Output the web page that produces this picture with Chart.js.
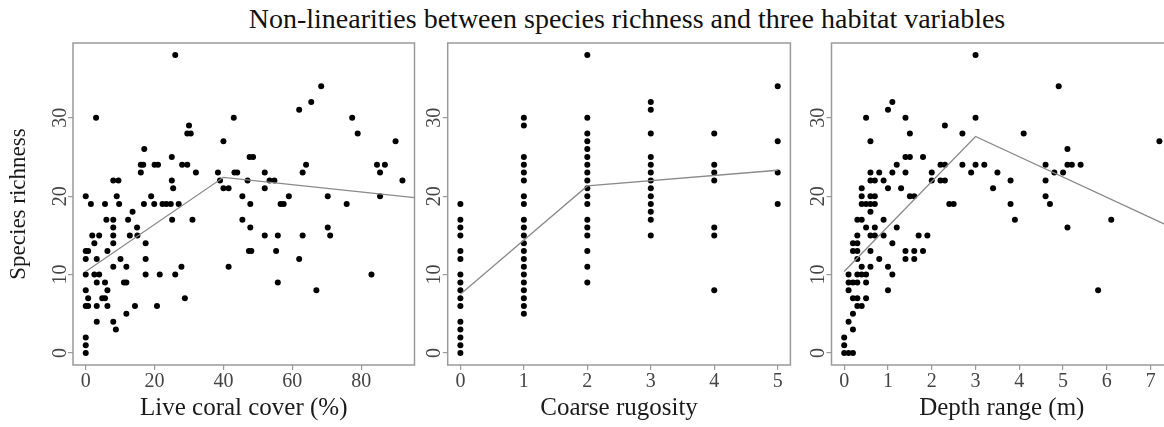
<!DOCTYPE html>
<html>
<head>
<meta charset="utf-8">
<script src="https://cdn.jsdelivr.net/npm/chart.js@4/dist/chart.umd.min.js"></script>
<style>
  html, body { margin: 0; padding: 0; background: #fff; width: 1164px; height: 427px; overflow: hidden; }
  #title { position: absolute; left: 0; top: 3px; width: 1254px; text-align: center;
           font: 28px 'Liberation Serif', serif; color: #111; white-space: nowrap; }
  .panel { position: absolute; top: 0; height: 427px; }
</style>
</head>
<body>
<div id="title">Non-linearities between species richness and three habitat variables</div>
<div class="panel" style="left:0px"><canvas id="coral" width="430" height="427"></canvas></div>
<div class="panel" style="left:410px"><canvas id="rugosity" width="390" height="427"></canvas></div>
<div class="panel" style="left:795px"><canvas id="depth" width="385" height="427"></canvas></div>
<script>
// ---- Live coral cover (%) vs species richness ----
const coralCover = [
  26, 3, 30, 29.5, 30.5, 17, 25, 16, 16.7, 20, 21, 28, 29.5, 16, 32, 8, 9.5, 25, 25.4,
  0, 9, 19, 1.5, 5.6, 9.7, 16.9, 19.9, 22.3, 23.4, 24.7, 27, 13.6,
  6, 8, 12.3, 25.1, 31, 8, 14.9, 1.9, 3.9, 8, 12.8, 15, 2.5, 8, 17.4,
  0, 0.7, 6.3, 0, 3.2, 10.1, 17.4, 8, 11.8, 27.8, 0, 2.5, 3.9, 17.4, 21.5, 26,
  3.2, 5.6, 11.1, 11.8, 0, 6.3, 0.7, 4.8, 5.6, 28.8, 0, 0.7, 3.2, 6.3, 14.3, 20.7,
  11.8, 3.2, 8, 8.75, 0, 0, 0,
  68.4, 65.5, 62, 43, 77.4, 79, 40, 90, 47.6, 48.6, 64, 84.6, 86.9,
  38.4, 43.2, 44, 52, 63, 85.5, 39, 47, 53.4, 54.8, 92, 40, 41.5, 52,
  45.5, 59, 70.3, 85.5, 47.8, 56.6, 57.5, 75.8, 45.5, 47.8, 70.3,
  52, 55.8, 63, 71, 47.4, 48.1, 55.3, 62, 41.5, 83, 55.8, 67
];
const coralRichness = [
  38, 30, 29, 28, 28, 26, 25, 24, 24, 24, 24, 24, 24, 23, 23, 22, 22, 22, 21,
  20, 20, 20, 19, 19, 19, 19, 19, 19, 19, 19, 19, 18,
  17, 17, 17, 17, 17, 16, 16, 15, 15, 15, 15, 15, 14, 14, 14,
  13, 13, 13, 12, 12, 12, 12, 11, 11, 11, 10, 10, 10, 10, 10, 10,
  9, 9, 9, 9, 8, 8, 7, 7, 7, 7, 6, 6, 6, 6, 6, 6,
  5, 4, 4, 3, 2, 1, 0,
  34, 32, 31, 30, 30, 28, 27, 27, 25, 25, 24, 24, 24,
  23, 23, 23, 23, 23, 23, 22, 22, 22, 22, 22, 21, 21, 21,
  20, 20, 20, 20, 19, 19, 19, 19, 17, 16, 16,
  15, 15, 15, 15, 13, 13, 13, 12, 11, 10, 9, 8
];
const coralFitX = [0, 40, 95.5];
const coralFitY = [10.4, 22.4, 19.8];
const coralTicks = [0, 20, 40, 60, 80];

// ---- Coarse rugosity vs species richness ----
const rugosity = [
  0, 0, 0, 0, 0, 0, 0, 0, 0, 0, 0, 0, 0, 0, 0, 0,
  1, 1, 1, 1, 1, 1, 1, 1, 1, 1, 1, 1, 1, 1, 1, 1, 1, 1, 1, 1, 1,
  2, 2, 2, 2, 2, 2, 2, 2, 2, 2, 2, 2, 2, 2, 2, 2, 2, 2,
  3, 3, 3, 3, 3, 3, 3, 3, 3, 3, 3, 3, 3,
  4, 4, 4, 4, 4, 4, 4,
  5, 5, 5, 5
];
const rugosityRichness = [
  19, 17, 16, 15, 13, 12, 10, 9, 8, 7, 6, 4, 3, 2, 1, 0,
  30, 29, 25, 24, 23, 22, 20, 19, 17, 16, 15, 14, 13, 12, 11, 10, 9, 8, 7, 6, 5,
  38, 30, 28, 27, 26, 25, 24, 23, 22, 21, 20, 19, 17, 16, 15, 13, 11, 9,
  32, 31, 28, 25, 24, 23, 22, 21, 20, 19, 18, 17, 15,
  28, 24, 23, 22, 16, 15, 8,
  34, 27, 23, 19
];
const rugosityFitX = [0, 2, 5];
const rugosityFitY = [7.5, 21.3, 23.3];
const rugosityTicks = [0, 1, 2, 3, 4, 5];

// ---- Depth range (m) vs species richness ----
const depthRange = [
  3, 4.9, 1.1, 1.0, 0.5, 1.4, 3, 2.3, 1.5, 2.7, 4.1, 0.6, 7.2, 5.1, 1.4, 1.5, 1.8,
  1.2, 2.2, 2.3, 2.7, 3, 3.2, 4.6, 5.1, 5.2, 5.4,
  0.6, 0.8, 1.1, 1.4, 2.0, 2.9, 3.5, 4.8, 5.0,
  0.6, 0.7, 0.9, 2.0, 2.2, 2.3, 3.8, 4.6,
  0.4, 1.0, 1.3, 3.4,
  0.4, 0.6, 0.7, 1.5, 1.6, 4.6,
  0.4, 0.5, 0.6, 0.7, 2.4, 2.5, 3.8, 4.7,
  0.6,
  0.3, 0.4, 0.9, 3.9, 6.1,
  0.5, 0.7, 1.2, 5.1,
  0.3, 0.6, 0.7, 0.9, 1.7, 1.9,
  0.2, 0.3, 1.1,
  0.2, 0.3, 0.6, 1.4, 1.6, 1.8,
  0.3, 0.8, 1.4, 1.6,
  0.4, 0.6, 1.0,
  0.1, 0.3, 0.4, 0.5, 1.1,
  0.1, 0.2, 0.3, 0.5,
  0.1, 1.0, 5.8,
  0.2, 0.3, 0.5,
  0.3, 0.4,
  0.2, 0.1, 0.2, 0, 0, 0, 0.1, 0.2
];
const depthRichness = [
  38, 34, 32, 31, 30, 30, 30, 29, 28, 28, 28, 27, 27, 26, 25, 25, 25,
  24, 24, 24, 24, 24, 24, 24, 24, 24, 24,
  23, 23, 23, 23, 23, 23, 23, 23, 23,
  22, 22, 22, 22, 22, 22, 22, 22,
  21, 21, 21, 21,
  20, 20, 20, 20, 20, 20,
  19, 19, 19, 19, 19, 19, 19, 19,
  18,
  17, 17, 17, 17, 17,
  16, 16, 16, 16,
  15, 15, 15, 15, 15, 15,
  14, 14, 14,
  13, 13, 13, 13, 13, 13,
  12, 12, 12, 12,
  11, 11, 11,
  10, 10, 10, 10, 10,
  9, 9, 9, 9,
  8, 8, 8,
  7, 7, 7,
  6, 6,
  5, 4, 3, 2, 1, 0, 0, 0
];
const depthFitX = [0, 3, 7.49];
const depthFitY = [10.4, 27.6, 16.0];
const depthTicks = [0, 1, 2, 3, 4, 5, 6, 7];

// ---- shared y axis ----
const richnessTicks = [0, 10, 20, 30];
const richnessMin = -1.52;
const richnessMax = 39.52;

const SERIF = "'Liberation Serif', 'Times New Roman', serif";
const TICK_COLOR = '#444';
const FRAME_COLOR = '#9a9a9a';

// Frame around the plotting region, as in base-graphics box()
const framePlugin = {
  id: 'frame',
  beforeDatasetsDraw(chart) {
    const { ctx, chartArea: a } = chart;
    ctx.save();
    ctx.strokeStyle = FRAME_COLOR;
    ctx.lineWidth = 1.5;
    ctx.strokeRect(a.left, a.top, a.right - a.left, a.bottom - a.top);
    ctx.restore();
  }
};

// Y tick labels written parallel to the axis (reading bottom-to-top)
const verticalYLabels = {
  id: 'verticalYLabels',
  afterDraw(chart) {
    const s = chart.scales.y;
    const ctx = chart.ctx;
    ctx.save();
    ctx.font = '20px ' + SERIF;
    ctx.fillStyle = TICK_COLOR;
    ctx.textAlign = 'center';
    ctx.textBaseline = 'middle';
    s.ticks.forEach(t => {
      ctx.save();
      ctx.translate(chart.chartArea.left - 12.5, s.getPixelForValue(t.value));
      ctx.rotate(-Math.PI / 2);
      ctx.fillText(String(t.value), 0, 0);
      ctx.restore();
    });
    ctx.restore();
  }
};

function pairs(xs, ys) {
  return xs.map((x, i) => ({ x: x, y: ys[i] }));
}

function makePanel(id, opts) {
  return new Chart(document.getElementById(id), {
    type: 'scatter',
    data: {
      datasets: [
        {
          data: pairs(opts.fitX, opts.fitY),
          showLine: true,
          borderColor: '#8a8a8a',
          borderWidth: 1.3,
          pointRadius: 0,
          tension: 0,
          order: 0
        },
        {
          data: pairs(opts.xs, opts.ys),
          backgroundColor: '#000',
          borderWidth: 0,
          pointRadius: 3,
          order: 1
        }
      ]
    },
    options: {
      responsive: false,
      animation: false,
      events: [],
      layout: { padding: { top: 43, right: opts.padRight, left: 0, bottom: 0 } },
      plugins: { legend: { display: false }, tooltip: { enabled: false }, title: { display: false } },
      scales: {
        x: {
          type: 'linear',
          min: opts.xMin,
          max: opts.xMax,
          afterBuildTicks: s => { s.ticks = opts.xTicks.map(v => ({ value: v })); },
          afterFit: s => { s.height = 62; s.paddingLeft = 0; s.paddingRight = 0; },
          ticks: { font: { family: SERIF, size: 20 }, color: TICK_COLOR, padding: 0, maxRotation: 0, autoSkip: false },
          grid: { drawOnChartArea: false, drawTicks: true, tickLength: 5, color: FRAME_COLOR, lineWidth: 1.2 },
          border: { display: false },
          title: { display: true, text: opts.xTitle, color: '#1a1a1a',
                   font: { family: SERIF, size: 25 }, padding: { top: 0, bottom: 4 } }
        },
        y: {
          type: 'linear',
          min: richnessMin,
          max: richnessMax,
          afterBuildTicks: s => { s.ticks = richnessTicks.map(v => ({ value: v })); },
          afterFit: s => { s.width = opts.yWidth; s.paddingTop = 0; s.paddingBottom = 0; },
          ticks: { display: false },
          grid: { drawOnChartArea: false, drawTicks: true, tickLength: 5, color: FRAME_COLOR, lineWidth: 1.2 },
          border: { display: false },
          title: opts.yTitle
            ? { display: true, text: opts.yTitle, color: '#1a1a1a',
                font: { family: SERIF, size: 23 }, padding: { top: 5, bottom: 0 } }
            : { display: false }
        }
      }
    },
    plugins: [framePlugin, verticalYLabels]
  });
}

makePanel('coral', {
  xs: coralCover, ys: coralRichness, fitX: coralFitX, fitY: coralFitY,
  xMin: -3.7, xMax: 95.5, xTicks: coralTicks,
  xTitle: 'Live coral cover (%)', yTitle: 'Species richness',
  yWidth: 73, padRight: 15.5
});
makePanel('rugosity', {
  xs: rugosity, ys: rugosityRichness, fitX: rugosityFitX, fitY: rugosityFitY,
  xMin: -0.2, xMax: 5.2, xTicks: rugosityTicks,
  xTitle: 'Coarse rugosity', yTitle: null,
  yWidth: 37.7, padRight: 9.6
});
makePanel('depth', {
  xs: depthRange, ys: depthRichness, fitX: depthFitX, fitY: depthFitY,
  xMin: -0.29, xMax: 7.49, xTicks: depthTicks,
  xTitle: 'Depth range (m)', yTitle: null,
  yWidth: 36.5, padRight: 7.9
});
</script>
</body>
</html>
